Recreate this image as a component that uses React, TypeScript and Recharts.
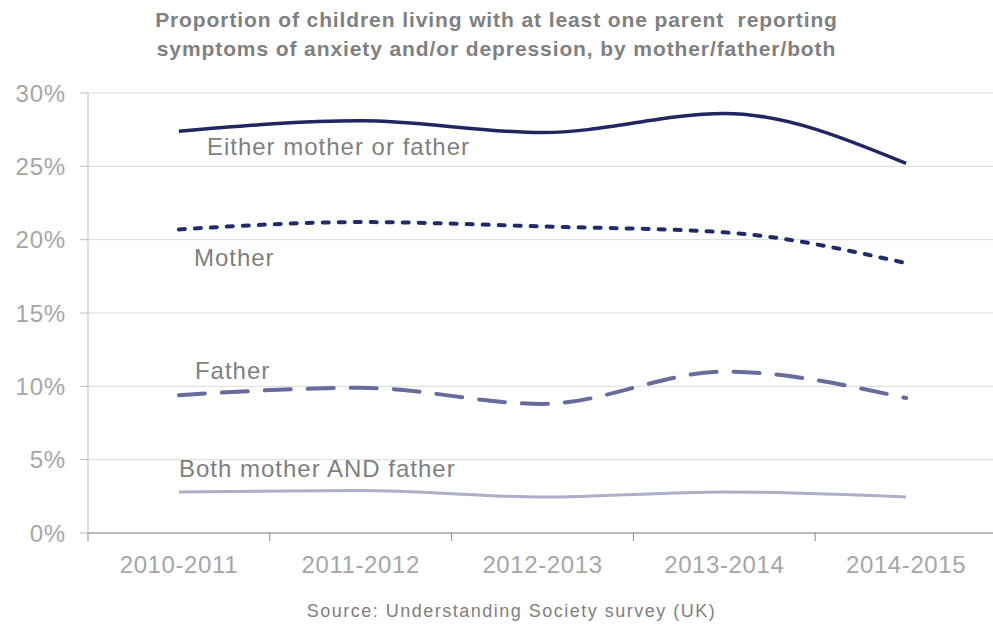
import { LineChart, Line, XAxis, YAxis, CartesianGrid, LabelList } from "recharts";

const YEARS = ["2010-2011", "2011-2012", "2012-2013", "2013-2014", "2014-2015"];
const EITHER = [27.4, 28.1, 27.3, 28.6, 25.2];
const MOTHER = [20.7, 21.2, 20.9, 20.5, 18.4];
const FATHER = [9.4, 9.9, 8.8, 11.0, 9.2];
const BOTH = [2.8, 2.9, 2.45, 2.8, 2.45];
const Y_TICKS = [0, 5, 10, 15, 20, 25, 30];
// integer ticks = category boundaries (tick marks), half ticks = category centres (labels)
const X_TICKS = [0, 0.5, 1, 1.5, 2, 2.5, 3, 3.5, 4, 4.5, 5];

const FONT = "'Liberation Sans', Arial, sans-serif";

const data = YEARS.map((year, i) => ({
  year,
  pos: i + 0.5,
  either: EITHER[i],
  mother: MOTHER[i],
  father: FATHER[i],
  both: BOTH[i],
}));

function XTick({ x, y, payload }: any) {
  const v = payload.value;
  if (Number.isInteger(v)) {
    return <line x1={x} x2={x} y1={y} y2={y + 8} stroke="#898989" strokeWidth={1} />;
  }
  return (
    <text
      x={x}
      y={y + 40}
      textAnchor="middle"
      fill="#a6a6a6"
      fontSize={24}
      letterSpacing={0.6}
      fontFamily={FONT}
    >
      {YEARS[Math.floor(v)]}
    </text>
  );
}

// label text placed next to the first point of each series
function seriesLabel(text: string, dx: number, dy: number) {
  return (props: any) => {
    if (props.index !== 0) return null;
    return (
      <text
        x={props.x + dx}
        y={props.y + dy}
        fill="#7f7f7f"
        fontSize={24}
        letterSpacing={1}
        fontFamily={FONT}
      >
        {text}
      </text>
    );
  };
}

export default function App() {
  return (
    <div
      style={{
        position: "absolute",
        left: 0,
        top: 0,
        width: 993,
        height: 627,
        overflow: "hidden",
        background: "#fff",
        fontFamily: FONT,
      }}
    >
      <div
        style={{
          position: "absolute",
          top: 5,
          left: 0,
          width: 993,
          textAlign: "center",
          fontSize: 21,
          fontWeight: 700,
          letterSpacing: 0.9,
          lineHeight: "29px",
          color: "#808080",
        }}
      >
        Proportion of children living with at least one parent&nbsp; reporting
        <br />
        symptoms of anxiety and/or depression, by mother/father/both
      </div>

      <LineChart
        width={1000}
        height={627}
        data={data}
        margin={{ top: 93, right: 3, left: 0, bottom: 34 }}
      >
        <CartesianGrid vertical={false} stroke="#d9d9d9" strokeWidth={1} />
        <XAxis
          type="number"
          dataKey="pos"
          domain={[0, 5]}
          ticks={X_TICKS}
          interval={0}
          height={60}
          axisLine={{ stroke: "#898989" }}
          tickLine={false}
          tickSize={0}
          tickMargin={0}
          tick={<XTick />}
        />
        <YAxis
          width={88}
          domain={[0, 30]}
          ticks={Y_TICKS}
          tickFormatter={(v: number) => `${v}%`}
          axisLine={{ stroke: "#bfbfbf" }}
          tickLine={{ stroke: "#bfbfbf" }}
          tickSize={8}
          tickMargin={14}
          tick={{ fill: "#a6a6a6", fontSize: 24, letterSpacing: 0.8, fontFamily: FONT }}
        />
        <Line
          type="monotone"
          dataKey="either"
          stroke="#1f2660"
          strokeWidth={3.5}
          dot={false}
          isAnimationActive={false}
        >
          <LabelList content={seriesLabel("Either mother or father", 28, 24)} />
        </Line>
        <Line
          type="monotone"
          dataKey="mother"
          stroke="#1f2b6b"
          strokeWidth={4}
          strokeDasharray="6 10"
          strokeLinecap="round"
          dot={false}
          isAnimationActive={false}
        >
          <LabelList content={seriesLabel("Mother", 15, 37)} />
        </Line>
        <Line
          type="monotone"
          dataKey="father"
          stroke="#686c9c"
          strokeWidth={4}
          strokeDasharray="26 17"
          strokeLinecap="round"
          dot={false}
          isAnimationActive={false}
        >
          <LabelList content={seriesLabel("Father", 16, -16)} />
        </Line>
        <Line
          type="monotone"
          dataKey="both"
          stroke="#adafc8"
          strokeWidth={3}
          dot={false}
          isAnimationActive={false}
        >
          <LabelList content={seriesLabel("Both mother AND father", 0, -15)} />
        </Line>
      </LineChart>

      <div
        style={{
          position: "absolute",
          top: 601,
          left: 15,
          width: 993,
          textAlign: "center",
          fontSize: 18,
          letterSpacing: 1.5,
          color: "#808080",
        }}
      >
        Source: Understanding Society survey (UK)
      </div>
    </div>
  );
}
